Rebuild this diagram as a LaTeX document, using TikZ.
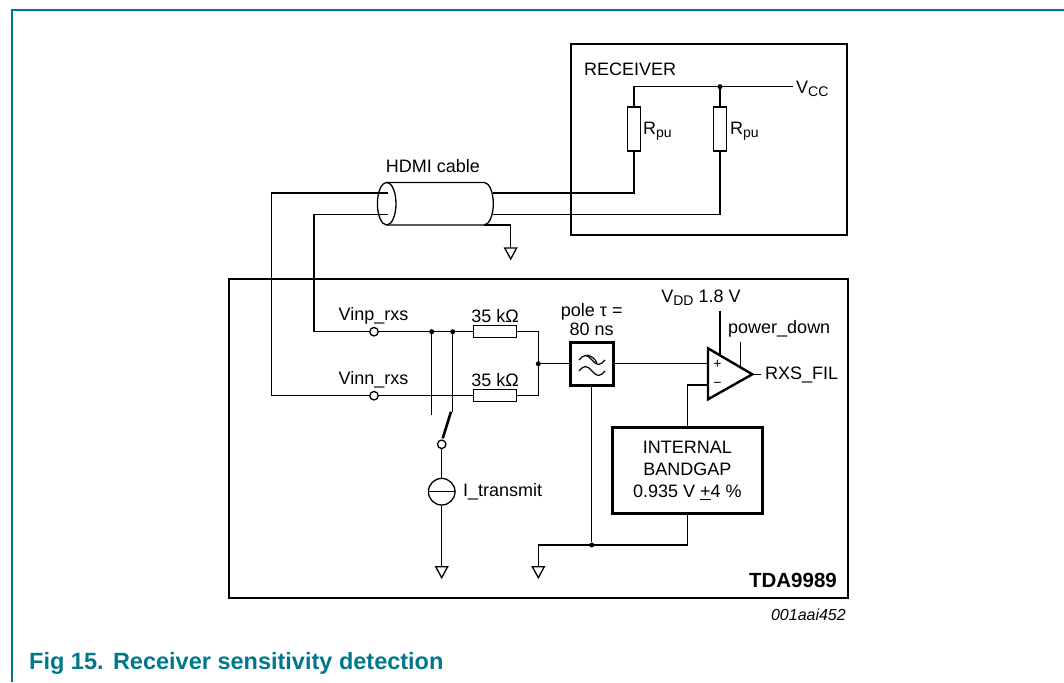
\documentclass[tikz,border=0pt]{standalone}
\usepackage{fontspec}
\setmainfont{Liberation Sans}
\definecolor{teal}{RGB}{0,120,140}
\newcommand\subtx[1]{\raisebox{-0.35ex}{\fontsize{14}{14}\selectfont #1}}
\begin{document}
\begin{tikzpicture}[x=1pt,y=-1pt,
  wire/.style={line width=1.3pt},
  frame/.style={line width=2.6pt},
  lbl/.style={inner sep=0pt,font=\fontsize{18}{20}\selectfont},
  vres/.style={draw,line width=1.3pt,minimum width=13pt,minimum height=44pt,inner sep=0pt},
  hres/.style={draw,line width=1.3pt,minimum width=43pt,minimum height=12pt,inner sep=0pt},
  term/.style={draw,circle,line width=1.3pt,fill=white,minimum size=8.5pt,inner sep=0pt},
  jdot/.style={circle,fill=black,minimum size=5pt,inner sep=0pt},
  gnd/.pic={\draw[line width=1.3pt] (-6,0) -- (6,0) -- (0,11) -- cycle;}
]
\useasboundingbox (0,0) rectangle (1064,682);
% teal page frame
\draw[teal,line width=2pt] (12,682) -- (12,10.5) -- (1064,10.5);

% ---------------- RECEIVER ----------------
\node[frame,draw,minimum width=276pt,minimum height=191pt,inner sep=0pt] (rx) at (709,139.5) {};
\node[lbl,anchor=west] (rxl) at (584,69.5) {RECEIVER};
\node[vres] (rp1) at (634,129) {};
\node[vres] (rp2) at (720,129) {};
\coordinate (vccL) at (634,86.7);
\node[jdot] (vccd) at (720,86.7) {};
\coordinate (vccR) at (793,86.7);
\node[lbl,anchor=west] (vcc) at (796,89) {V\subtx{CC}};
\node[lbl,anchor=west] (rpl1) at (643,131) {R\subtx{pu}};
\node[lbl,anchor=west] (rpl2) at (730,131) {R\subtx{pu}};
\draw[wire] (rp1.north) -- (vccL) -- (vccR);
\draw[wire] (rp2.north) -- (vccd);

% ---------------- HDMI cable ----------------
\draw[wire] (386.7,203.7) ellipse [x radius=9.3, y radius=21.3];
\draw[wire] (386.7,182.4) -- (484,182.4) arc[start angle=-90,end angle=90,x radius=9.3,y radius=21.3] -- (386.7,225);
\node[lbl] (hdmi) at (433,166) {HDMI cable};
\coordinate (cabG) at (484,225);
\coordinate (g1) at (510.7,248);
\draw[wire] (cabG) -- (510.7,225) -- (g1);
\pic at (g1) {gnd};

% ---------------- TDA9989 ----------------
\node[frame,draw,minimum width=619pt,minimum height=319pt,inner sep=0pt] (tda) at (538.5,438.5) {};
\node[font=\fontsize{20.5}{22}\selectfont\bfseries,anchor=east,inner sep=0pt] (tdal) at (837,580) {TDA9989};
\node[font=\fontsize{16}{18}\selectfont\itshape,anchor=east,inner sep=0pt] (code) at (846,615) {001aai452};

% terminals
\node[term] (vinp) at (374,331.7) {};
\node[term] (vinn) at (374,395.7) {};
\node[lbl] (vinpl) at (373.5,316) {Vinp\_rxs};
\node[lbl] (vinnl) at (373.5,380) {Vinn\_rxs};

% cable wires
\draw[wire] (vinn.west) -- (271.7,395.7) -- (271.7,193) -- (388,193);
\draw[wire] (493.3,193) -- (634,193) -- (rp1.south);
\draw[wire] (vinp.west) -- (314,331.7) -- (314,214.3) -- (388,214.3);
\draw[wire] (493.3,214.3) -- (720,214.3) -- (rp2.south);

% resistors 35k
\node[hres] (r35a) at (495.3,331.7) {};
\node[hres] (r35b) at (495.3,395.7) {};
\node[lbl] (r35al) at (495,316) {35 kΩ};
\node[lbl] (r35bl) at (495,380) {35 kΩ};
\node[jdot] (ja) at (431.7,331.7) {};
\node[jdot] (jb) at (452.7,331.7) {};
\draw[wire] (vinp.east) -- (r35a.west);
\draw[wire] (vinn.east) -- (r35b.west);
\node[jdot] (jm) at (538.3,363.7) {};
\draw[wire] (r35a.east) -- (538.3,331.7) -- (538.3,395.7) -- (r35b.east);

% filter
\node[draw,line width=2.6pt,minimum size=43pt,inner sep=0pt] (filt) at (591.7,363.7) {};
\draw[wire] (jm) -- (filt.west);
\draw[line width=1.2pt] (579,360) sin (585.5,355.5) cos (592,360) sin (598.5,364.5) cos (605,360);
\draw[line width=1.2pt] (579,371) sin (585.5,366.5) cos (592,371) sin (598.5,375.5) cos (605,371);
\draw[line width=1.2pt] (587,355) .. controls (592,356) and (595,359) .. (597,363);
\node[lbl] (polel) at (591.7,311.7) {pole τ =};
\node[lbl] (nsl) at (591.7,329) {80 ns};

% switch and current source
\coordinate (sa) at (431.7,415);
\coordinate (sb) at (452.7,411.7);
\draw[wire] (ja) -- (sa);
\draw[wire] (jb) -- (sb);
\node[term] (sw) at (441.7,444.3) {};
\draw[line width=2.6pt] (sw.north) ++(1,-1) -- (451,411.7);
\node[draw,circle,line width=1.3pt,minimum size=26.6pt,inner sep=0pt] (isrc) at (441.7,491.7) {};
\draw[wire] (isrc.west) -- (isrc.east);
\node[lbl,anchor=west] (isl) at (463,492) {I\_transmit};
\coordinate (g2) at (441.7,566.7);
\draw[wire] (sw.south) -- (isrc.north);
\draw[wire] (isrc.south) -- (g2);
\pic at (g2) {gnd};

% op amp
\coordinate (oa1) at (708,348.3);
\coordinate (oa2) at (708,399.3);
\coordinate (oaO) at (752.3,374.3);
\draw[line width=2.4pt,line join=miter] (oa1) -- (oaO) -- (oa2) -- cycle;
\node[inner sep=0pt,font=\fontsize{14}{14}\selectfont] (plus) at (717.5,364) {+};
\node[inner sep=0pt,font=\fontsize{14}{14}\selectfont] (minus) at (717.5,384.5) {\textminus};
\coordinate (inp) at (708,363.7);
\coordinate (inn) at (708,385);
\draw[wire] (filt.east) -- (inp);
\coordinate (vddT) at (720,310.7);
\coordinate (vddB) at (720,355.3);
\draw[wire] (vddT) -- (vddB);
\node[lbl] (vddl) at (701,298) {V\subtx{DD} 1.8 V};
\coordinate (pdT) at (740.7,342.3);
\coordinate (pdB) at (740.7,367.6);
\draw[wire] (pdT) -- (pdB);
\node[lbl,anchor=west] (pdl) at (728,329) {power\_down};
\coordinate (outE) at (760.7,374.3);
\draw[wire] (oaO) -- (outE);
\node[lbl,anchor=west] (outl) at (765,375) {RXS\_FIL};

% bandgap
\node[draw,line width=2.6pt,minimum width=150pt,minimum height=85.6pt,inner sep=0pt,align=center,font=\fontsize{18}{21.7}\selectfont] (bg) at (687.3,470.5) {INTERNAL\\BANDGAP\\0.935 V \underline{+}4 \%};
\draw[wire] (inn) -- (687.3,385) -- (bg.north);
\node[jdot] (jg) at (591.7,545) {};
\coordinate (g3) at (538.3,566.7);
\draw[wire] (bg.south) -- (687.3,545) -- (538.3,545) -- (g3);
\draw[wire] (filt.south) -- (jg);
\pic at (g3) {gnd};

% caption
\node[anchor=west,inner sep=0pt,text=teal,font=\fontsize{23.5}{25}\selectfont\bfseries] (cap) at (29,663) {Fig 15.\hspace{0.4em}Receiver sensitivity detection};
\end{tikzpicture}
\end{document}
